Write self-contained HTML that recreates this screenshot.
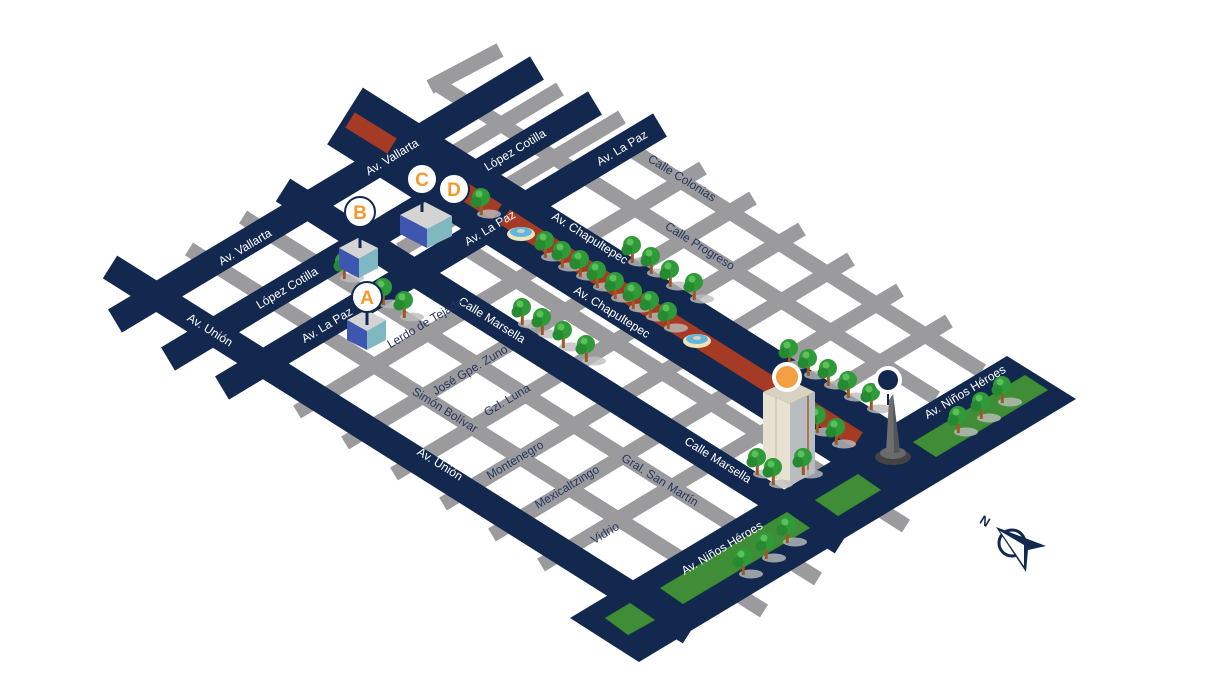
<!DOCTYPE html>
<html><head><meta charset="utf-8"><style>
html,body{margin:0;padding:0;background:#fff;}
svg{display:block;}
text{font-family:"Liberation Sans",sans-serif;}
.w{fill:#fff;font-size:12px;}
.g{fill:#26365e;font-size:12px;}
</style></head><body>
<svg width="1225" height="689" viewBox="0 0 1225 689" xmlns="http://www.w3.org/2000/svg">
<defs>
<g id="tree">
<ellipse cx="8" cy="12" rx="12" ry="4.5" fill="#bdbdbd" opacity="0.8"/>
<rect x="-1.2" y="2" width="3" height="11" fill="#9a5a22"/>
<circle cx="0" cy="-5" r="9" fill="#2f9a38"/>
<circle cx="-5" cy="0" r="5.5" fill="#268a30"/>
<circle cx="-2" cy="-8" r="3.5" fill="#5cc05a"/>
</g>
</defs>

<g stroke="#9b9b9d" stroke-width="15" fill="none">
<line x1="297" y1="412" x2="703" y2="168"/>
<line x1="345" y1="443" x2="753" y2="198"/>
<line x1="394" y1="474" x2="802" y2="229"/>
<line x1="443" y1="504" x2="851" y2="259"/>
<line x1="492" y1="535" x2="900" y2="290"/>
<line x1="541" y1="565" x2="949" y2="321"/>
<line x1="400" y1="250" x2="622" y2="117"/>
<line x1="430" y1="167" x2="560" y2="89"/>
<line x1="430" y1="87" x2="500" y2="50"/>
<line x1="189" y1="249" x2="764" y2="611"/>
<line x1="243" y1="217" x2="818" y2="579"/>
<line x1="470" y1="251" x2="906" y2="526"/>
<line x1="440" y1="86" x2="936" y2="398"/>
<line x1="630" y1="149" x2="982" y2="371"/>
</g>

<g stroke="#12284f" stroke-width="27" fill="none">
<line x1="115" y1="321" x2="537" y2="68"/>
<line x1="168" y1="359" x2="595" y2="103"/>
<line x1="222" y1="388" x2="660" y2="125"/>
<line x1="110" y1="267" x2="690" y2="632"/>
<line x1="283" y1="190" x2="842" y2="542"/>
<line x1="345" y1="116" x2="905" y2="469" stroke-width="67"/>
</g>
<polygon points="570,618 1007,356 1076,399 639,662" fill="#12284f"/>

<g stroke="#a53b25" stroke-width="18" fill="none">
<line x1="350" y1="120" x2="392" y2="146"/>
<line x1="462" y1="190" x2="497" y2="212"/>
<line x1="505" y1="217" x2="858" y2="440"/>
</g>

<g fill="#3f8d36" stroke="#2c6e28" stroke-width="0.5">
<polygon points="605,618 630,603 655,620 628,635"/>
<polygon points="660,588 787,512 810,528 683,604"/>
<polygon points="815,500 858,474 881,490 838,516"/>
<polygon points="913,442 1025,375 1048,390 936,457"/>
</g>

<g>
<ellipse cx="521" cy="234" rx="14" ry="7" fill="#f1e3b8"/>
<ellipse cx="521" cy="232" rx="11" ry="5" fill="#5fb6e0"/>
<ellipse cx="521" cy="231" rx="4" ry="2" fill="#d9d2b8"/>
<ellipse cx="697" cy="341" rx="14" ry="7" fill="#f1e3b8"/>
<ellipse cx="697" cy="339" rx="11" ry="5" fill="#5fb6e0"/>
<ellipse cx="697" cy="338" rx="4" ry="2" fill="#d9d2b8"/>
</g>

<g>
<use href="#tree" x="522" y="312"/><use href="#tree" x="542" y="322"/><use href="#tree" x="563" y="335"/><use href="#tree" x="586" y="349"/>
<use href="#tree" x="545" y="245"/><use href="#tree" x="562" y="255"/><use href="#tree" x="580" y="264"/><use href="#tree" x="597" y="275"/>
<use href="#tree" x="615" y="286"/><use href="#tree" x="633" y="296"/><use href="#tree" x="650" y="305"/><use href="#tree" x="668" y="316"/>
<use href="#tree" x="632" y="250"/><use href="#tree" x="651" y="261"/><use href="#tree" x="670" y="274"/><use href="#tree" x="694" y="287"/>
<use href="#tree" x="789" y="353"/><use href="#tree" x="808" y="363"/><use href="#tree" x="828" y="373"/><use href="#tree" x="848" y="385"/><use href="#tree" x="871" y="397"/>
<use href="#tree" x="817" y="420"/><use href="#tree" x="836" y="432"/>
<use href="#tree" x="481" y="202"/>
<use href="#tree" x="344" y="266"/><use href="#tree" x="383" y="292"/><use href="#tree" x="404" y="305"/>
<use href="#tree" x="958" y="420"/><use href="#tree" x="981" y="406"/><use href="#tree" x="1002" y="390"/>
<use href="#tree" x="743" y="562"/><use href="#tree" x="766" y="546"/><use href="#tree" x="787" y="530"/>
</g>

<g>
<polygon points="347,320 366,310 386,320 367,331" fill="#d4d4d4"/>
<polygon points="347,320 367,331 367,350 347,340" fill="#3f56b0"/>
<polygon points="367,331 386,320 386,340 367,350" fill="#7fb8c0"/>
<polygon points="339,248 358,238 378,248 359,259" fill="#d4d4d4"/>
<polygon points="339,248 359,259 359,278 339,268" fill="#3f56b0"/>
<polygon points="359,259 378,248 378,268 359,278" fill="#7fb8c0"/>
<polygon points="400,215 425,202 452,216 427,229" fill="#d4d4d4"/>
<polygon points="400,215 427,229 427,248 400,234" fill="#3f56b0"/>
<polygon points="427,229 452,216 452,236 427,248" fill="#7fb8c0"/>
</g>

<g>
<polygon points="763,392 790,380 815,392 790,404" fill="#d8d2c0"/>
<polygon points="763,392 790,404 790,485 763,473" fill="#e6e1d0"/>
<polygon points="790,404 815,392 815,473 790,485" fill="#b9bcc0"/>
<line x1="808" y1="396" x2="808" y2="476" stroke="#a0602a" stroke-width="1.5"/>
<line x1="776" y1="398" x2="776" y2="479" stroke="#c4bca6" stroke-width="1"/>
</g>
<use href="#tree" x="757" y="462"/><use href="#tree" x="773" y="472"/><use href="#tree" x="803" y="462"/>

<g>
<ellipse cx="893" cy="457" rx="18" ry="8" fill="#444"/>
<ellipse cx="893" cy="453" rx="13" ry="6" fill="#6a6a6a"/>
<polygon points="886,452 889,400 893,394 900,452" fill="#6f6f6f"/>
<polygon points="893,394 900,452 894,453" fill="#555"/>
</g>

<g>
<line x1="367" y1="310" x2="367" y2="325" stroke="#12284f" stroke-width="3"/>
<line x1="360" y1="228" x2="360" y2="248" stroke="#12284f" stroke-width="3"/>
<line x1="422" y1="193" x2="422" y2="212" stroke="#12284f" stroke-width="3"/>
<circle cx="367" cy="297" r="15" fill="#fff" stroke="#12284f" stroke-width="2"/>
<circle cx="360" cy="212" r="15" fill="#fff" stroke="#12284f" stroke-width="2"/>
<circle cx="422" cy="179" r="15" fill="#fff" stroke="#12284f" stroke-width="2"/>
<circle cx="454" cy="189" r="15" fill="#fff" stroke="#12284f" stroke-width="2"/>
<g fill="#f3992d" font-size="19" font-weight="bold" text-anchor="middle">
<text x="367" y="304">A</text><text x="360" y="219">B</text><text x="422" y="186">C</text><text x="454" y="196">D</text>
</g>
<circle cx="787" cy="377" r="15" fill="#fff"/><circle cx="787" cy="377" r="11" fill="#f59f45"/>
<line x1="888" y1="392" x2="888" y2="405" stroke="#12284f" stroke-width="2"/>
<circle cx="888" cy="380" r="14" fill="#fff"/><circle cx="888" cy="380" r="10" fill="#12284f"/>
</g>

<g class="w" text-anchor="middle" dominant-baseline="central">
<text transform="translate(245,247) rotate(-31)">Av. Vallarta</text>
<text transform="translate(392,157) rotate(-31)">Av. Vallarta</text>
<text transform="translate(287,288) rotate(-31)">López Cotilla</text>
<text transform="translate(515,150) rotate(-31)">López Cotilla</text>
<text transform="translate(327,325) rotate(-31)">Av. La Paz</text>
<text transform="translate(490,228) rotate(-31)">Av. La Paz</text>
<text transform="translate(622,148) rotate(-31)">Av. La Paz</text>
<text transform="translate(722,548) rotate(-31)">Av. Niños Héroes</text>
<text transform="translate(965,392) rotate(-31)">Av. Niños Héroes</text>
<text transform="translate(210,330) rotate(32)">Av. Unión</text>
<text transform="translate(440,464) rotate(32)">Av. Unión</text>
<text transform="translate(492,320) rotate(32)">Calle Marsella</text>
<text transform="translate(718,460) rotate(32)">Calle Marsella</text>
<text transform="translate(590,238) rotate(32)">Av. Chapultepec</text>
<text transform="translate(612,312) rotate(32)">Av. Chapultepec</text>
</g>
<g class="g" text-anchor="middle" dominant-baseline="central">
<text transform="translate(425,323) rotate(-31)">Lerdo de Tejada</text>
<text transform="translate(470,370) rotate(-31)">José Gpe. Zuno</text>
<text transform="translate(507,400) rotate(-31)">Gzl. Luna</text>
<text transform="translate(515,460) rotate(-31)">Montenegro</text>
<text transform="translate(567,487) rotate(-31)">Mexicaltzingo</text>
<text transform="translate(605,533) rotate(-31)">Vidrio</text>
<text transform="translate(445,410) rotate(32)">Simón Bolívar</text>
<text transform="translate(660,480) rotate(32)">Gral. San Martín</text>
<text transform="translate(682,178) rotate(32)">Calle Colonias</text>
<text transform="translate(700,246) rotate(32)">Calle Progreso</text>
</g>

<g>
<text transform="translate(985,521) rotate(32)" fill="#12284f" font-size="13" font-weight="bold" text-anchor="middle" dominant-baseline="central">N</text>
<circle cx="1012" cy="543" r="13" fill="none" stroke="#12284f" stroke-width="3"/>
<polygon points="996,527 1046,546 1028,550 1026,572" fill="#12284f"/>
<polygon points="1000,531 1024,545 1024,566" fill="#fff"/>
</g>
</svg>
</body></html>
